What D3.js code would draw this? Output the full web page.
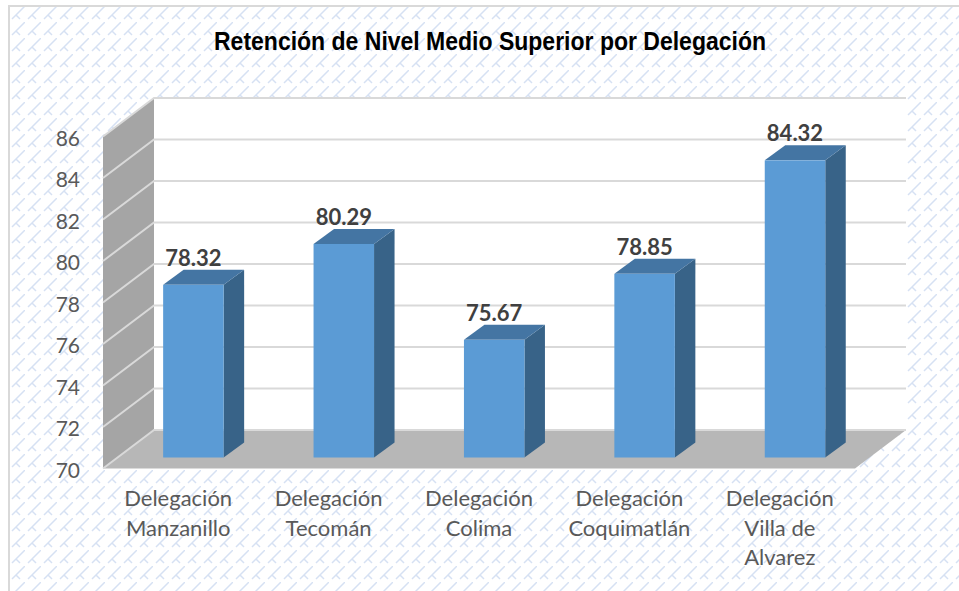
<!DOCTYPE html>
<html>
<head>
<meta charset="utf-8">
<script src="https://cdn.jsdelivr.net/npm/d3@7"></script>
<style>
    html, body { margin: 0; padding: 0; background: #fff; }
    svg { display: block; }
</style>
</head>
<body>
<div id="app"></div>
<script>
const categories = ["Delegación|Manzanillo", "Delegación|Tecomán", "Delegación|Colima", "Delegación|Coquimatlán", "Delegación|Villa de|Alvarez"]
const values = [78.32, 80.29, 75.67, 78.85, 84.32]
const yTicks = [70, 72, 74, 76, 78, 80, 82, 84, 86]
const titleText = "Retención de Nivel Medio Superior por Delegación"

const width = 959
const height = 591

// depth of the fake 3d box, and of the bars sitting in the middle of it
const depthX = 51
const depthY = 38.5
const barDepthX = 20.5
const barDepthY = 15
const barShiftX = 15.2
const barShiftY = 11
const barWidth = 60.5

const svg = d3.select('#app')
    .append('svg')
    .attr('width', width)
    .attr('height', height)

const pattern = svg.append('defs')
    .append('pattern')
    .attr('id', 'hatch')
    .attr('patternUnits', 'userSpaceOnUse')
    .attr('x', 9)
    .attr('y', 6)
    .attr('width', 16)
    .attr('height', 16)

pattern.append('path')
    .attr('d', 'M17 -1L3 13M7 9L11 13')
    .attr('fill', 'none')
    .attr('stroke', '#d6e1f3')
    .attr('stroke-width', 1.5)

svg.append('rect')
    .attr('x', 9)
    .attr('y', 6)
    .attr('width', width - 9)
    .attr('height', height - 6)
    .attr('fill', 'url(#hatch)')

svg.append('path')
    .attr('d', `M9 ${height}V6H${width}`)
    .attr('fill', 'none')
    .attr('stroke', '#d9d9d9')
    .attr('stroke-width', 2)

const xScale = d3.scaleBand()
    .domain(categories)
    .range([103, 855])

const yScale = d3.scaleLinear()
    .domain([70, 86])
    .range([468.5, 136.5])

const left = xScale.range()[0]
const right = xScale.range()[1]
const floorY = yScale(70)
const topY = yScale(86)

// back wall
svg.append('rect')
    .attr('x', left + depthX)
    .attr('y', topY - depthY)
    .attr('width', right - left)
    .attr('height', floorY - topY)
    .attr('fill', '#fff')

// side wall
svg.append('polygon')
    .attr('points', [[left, floorY], [left, topY], [left + depthX, topY - depthY], [left + depthX, floorY - depthY]].join(' '))
    .attr('fill', '#a5a5a5')

// floor
svg.append('polygon')
    .attr('points', [[left, floorY], [left + depthX, floorY - depthY], [right + depthX, floorY - depthY], [right, floorY]].join(' '))
    .attr('fill', '#b7b7b7')

svg.selectAll('.grid')
    .data(yTicks)
    .enter()
    .append('path')
    .attr('class', 'grid')
    .attr('d', d => `M${left} ${yScale(d)}L${left + depthX} ${yScale(d) - depthY}H${right + depthX}`)
    .attr('fill', 'none')
    .attr('stroke', '#d9d9d9')
    .attr('stroke-width', 2)

const bars = svg.selectAll('.bar')
    .data(values)
    .enter()
    .append('g')
    .attr('class', 'bar')

const barX = i => xScale(categories[i]) + xScale.bandwidth() / 2 + barShiftX - barWidth / 2
const barTop = d => yScale(d) - barShiftY
const barBottom = floorY - barShiftY

bars.append('polygon')
    .attr('points', (d, i) => {
        const x = barX(i) + barWidth
        return [[x, barTop(d)], [x + barDepthX, barTop(d) - barDepthY], [x + barDepthX, barBottom - barDepthY], [x, barBottom]].join(' ')
    })
    .attr('fill', '#386388')

bars.append('polygon')
    .attr('points', (d, i) => {
        const x = barX(i)
        return [[x, barTop(d)], [x + barDepthX, barTop(d) - barDepthY], [x + barWidth + barDepthX, barTop(d) - barDepthY], [x + barWidth, barTop(d)]].join(' ')
    })
    .attr('fill', '#4475a3')

bars.append('rect')
    .attr('x', (d, i) => barX(i))
    .attr('y', d => barTop(d))
    .attr('width', barWidth)
    .attr('height', d => barBottom - barTop(d))
    .attr('fill', '#5b9bd5')

bars.append('text')
    .attr('x', (d, i) => barX(i) + barWidth / 2)
    .attr('y', d => barTop(d) - 19)
    .attr('text-anchor', 'middle')
    .attr('font-family', 'Lato')
    .attr('font-weight', 'bold')
    .attr('font-size', 22)
    .attr('fill', '#404040')
    .text(d => d.toFixed(2))

svg.selectAll('.ytick')
    .data(yTicks)
    .enter()
    .append('text')
    .attr('class', 'ytick')
    .attr('x', 80)
    .attr('y', d => yScale(d) + 9)
    .attr('text-anchor', 'end')
    .attr('font-family', 'Lato')
    .attr('font-size', 21)
    .attr('fill', '#595959')
    .text(d => d)

const xLabels = svg.selectAll('.xlabel')
    .data(categories)
    .enter()
    .append('text')
    .attr('class', 'xlabel')
    .attr('text-anchor', 'middle')
    .attr('font-family', 'Lato')
    .attr('font-size', 22)
    .attr('fill', '#595959')

xLabels.selectAll('tspan')
    .data(d => d.split('|').map(line => ({ line, cat: d })))
    .enter()
    .append('tspan')
    .attr('x', d => xScale(d.cat) + xScale.bandwidth() / 2)
    .attr('y', (d, i) => 506 + i * 29.5)
    .text(d => d.line)

svg.append('text')
    .attr('x', 490)
    .attr('y', 50)
    .attr('text-anchor', 'middle')
    .attr('font-family', 'Liberation Sans')
    .attr('font-weight', 'bold')
    .attr('font-size', 25)
    .attr('textLength', 552)
    .attr('lengthAdjust', 'spacingAndGlyphs')
    .attr('fill', '#000')
    .text(titleText)
</script>
</body>
</html>
